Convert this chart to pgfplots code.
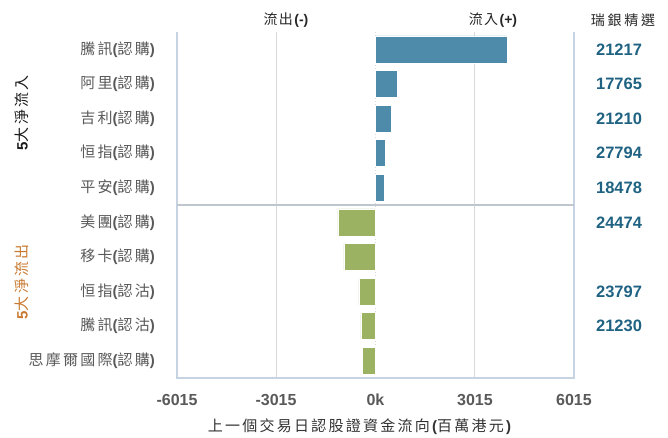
\documentclass[border=0pt]{standalone}
\usepackage{pgfplots}
\pgfplotsset{compat=1.18}
\usepackage{fontspec}
\setmainfont{Liberation Sans}
\newfontfamily\cjk[LetterSpace=15]{Noto Sans CJK TC}
\definecolor{barblue}{HTML}{4E8BAA}
\definecolor{bargreen}{HTML}{9BB262}
\definecolor{numblue}{HTML}{1F6282}
\definecolor{axisblue}{HTML}{C6D4E2}
\definecolor{sepgray}{HTML}{BFC6CE}
\definecolor{gridgray}{HTML}{D9D9D9}
\definecolor{txtgray}{HTML}{595959}
\definecolor{orangelab}{HTML}{C9792F}
\newcommand{\cl}[2]{{\cjk #1}{\bfseries(}{\cjk #2}{\bfseries)}}
\tikzset{numstyle/.style={text=numblue, font=\fontsize{16.5}{18}\selectfont\bfseries}}
\begin{document}
\begin{tikzpicture}[x=1pt,y=1pt]
\useasboundingbox (0,0) rectangle (668,437);
\begin{axis}[
  at={(177pt,59pt)}, anchor=south west,
  scale only axis, width=397pt, height=346pt,
  xmin=-6015, xmax=6015, ymin=-0.5, ymax=9.5, y dir=reverse,
  xbar, bar width=27pt, bar shift=0pt,
  axis line style={draw=none},
  major tick length=0pt,
  clip=false,
  xtick={-6015,-3015,3015,6015},
  xticklabels={-6015,-3015,3015,6015},
  extra x ticks={0}, extra x tick labels={0k},
  extra x tick style={grid style={gridgray, dotted, line width=1pt}},
  xmajorgrids, grid style={gridgray, line width=1pt},
  xticklabel style={anchor=base, yshift=-27pt, font=\fontsize{16}{18}\selectfont\bfseries, text=txtgray},
  ytick={0,...,9},
  yticklabels={{\cl{騰訊}{認購}},{\cl{阿里}{認購}},{\cl{吉利}{認購}},{\cl{恒指}{認購}},{\cl{平安}{認購}},{\cl{美團}{認購}},{\cl{移卡}{認購}},{\cl{恒指}{認沽}},{\cl{騰訊}{認沽}},{\cl{思摩爾國際}{認購}}},
  yticklabel style={anchor=east, inner sep=0pt, xshift=-22pt, font=\fontsize{15}{17}\selectfont, text=txtgray},
]
\addplot[fill=barblue, draw=white, line width=0.6pt] coordinates {(3980,0) (657,1) (475,2) (294,3) (252,4)};
\addplot[fill=bargreen, draw=white, line width=0.6pt] coordinates {(-1142,5) (-960,6) (-506,7) (-445,8) (-403,9)};
\draw[axisblue, line width=1.2pt] (axis cs:-6015,-0.5) -- (axis cs:-6015,9.5) -- (axis cs:6015,9.5) -- (axis cs:6015,-0.5);
\draw[sepgray, line width=1.2pt] (axis cs:-6015,4.5) -- (axis cs:6015,4.5);
\node[numstyle] at (axis cs:7380,0) {21217};
\node[numstyle] at (axis cs:7380,1) {17765};
\node[numstyle] at (axis cs:7380,2) {21210};
\node[numstyle] at (axis cs:7380,3) {27794};
\node[numstyle] at (axis cs:7380,4) {18478};
\node[numstyle] at (axis cs:7380,5) {24474};
\node[numstyle] at (axis cs:7380,7) {23797};
\node[numstyle] at (axis cs:7380,8) {21230};
\end{axis}
\node[text=black!85, font=\fontsize{14}{16}\selectfont] at (286,417) {{\cjk\addfontfeature{LetterSpace=10} 流出}\textbf{(-)}};
\node[text=black!85, font=\fontsize{14}{16}\selectfont] at (493,417) {{\cjk\addfontfeature{LetterSpace=10} 流入}\textbf{(+)}};
\node[text=black!85, font=\fontsize{14}{16}\selectfont] at (623,417) {{\cjk\addfontfeature{LetterSpace=20} 瑞銀精選}};
\node[rotate=90, text=black!90, font=\fontsize{15}{17}\selectfont] at (22,324) {\textbf{5}{\cjk 大淨流入}};
\node[rotate=90, text=orangelab, font=\fontsize{15}{17}\selectfont] at (22,155) {\textbf{5}{\cjk 大淨流出}};
\node[text=black!80, font=\fontsize{15}{17}\selectfont] at (359.5,10) {{\cjk 上一個交易日認股證資金流向}\textbf{(}{\cjk 百萬港元}\textbf{)}};
\end{tikzpicture}
\end{document}
